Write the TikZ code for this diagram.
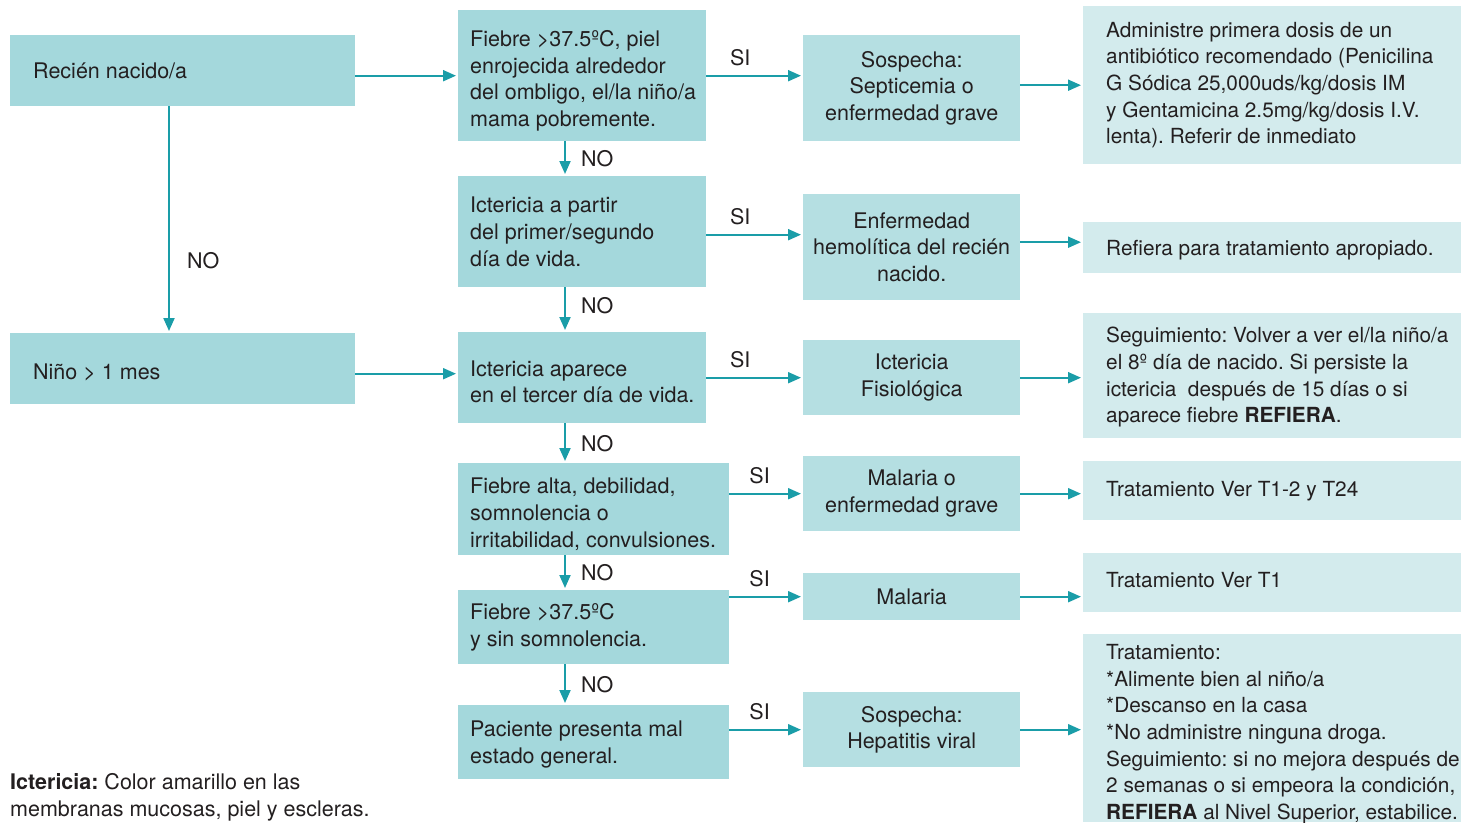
\documentclass[tikz,border=0pt]{standalone}
\usepackage{fontspec}
\setmainfont{TeX Gyre Heros}
\usetikzlibrary{arrows.meta,calc}
\definecolor{boxA}{HTML}{A4D8DC}
\definecolor{boxB}{HTML}{B5DFE2}
\definecolor{boxC}{HTML}{D3EBED}
\definecolor{arr}{HTML}{1A9DA8}
\definecolor{txt}{HTML}{231F20}
\frenchspacing
\begin{document}
\frenchspacing
\begin{tikzpicture}[x=1pt,y=-1pt,
  every node/.style={font=\fontsize{21.5}{26.7}\selectfont\frenchspacing, text=txt},
  boxa/.style={fill=boxA, draw=none, inner sep=0pt, anchor=north west},
  boxb/.style={fill=boxB, draw=none, inner sep=0pt, anchor=north west, align=center},
  boxc/.style={fill=boxC, draw=none, inner sep=0pt, anchor=north west},
  lbl/.style={anchor=west, align=left, inner sep=0pt},
  lbl4/.style={anchor=west, align=left, inner sep=0pt, font=\fontsize{20.8}{26.6}\selectfont\frenchspacing},
  arrow/.style={draw=arr, line width=2pt, -{Triangle[length=13pt,width=11pt]}, shorten >=2pt},
  si/.style={above=9pt, inner sep=0pt},
  no/.style={right=15pt, inner sep=0pt},
  noleft/.style={right=17pt, inner sep=0pt},
]
\useasboundingbox (0,0) rectangle (1461,822);
\coordinate (vx) at (565,0);
\coordinate (dx) at (169,0);

% column 1
\node[boxa, minimum width=345, minimum height=71] (R) at (10,35) {};
\node[lbl] (Rt) at ([xshift=23]R.west) {Recién nacido/a};
\node[boxa, minimum width=345, minimum height=71] (N) at (10,333) {};
\node[lbl] (Nt) at ([xshift=23,yshift=-4]N.west) {Niño > 1 mes};

% column 2
\node[boxa, minimum width=248, minimum height=131] (B1) at (458,10) {};
\node[lbl] (B1t) at ([xshift=12,yshift=-5]B1.west) {Fiebre >37.5ºC, piel\\enrojecida alrededor\\del ombligo, el/la niño/a\\mama pobremente.};
\node[boxa, minimum width=248, minimum height=111] (B2) at (458,176) {};
\node[lbl] (B2t) at ([xshift=12]B2.west) {Ictericia a partir\\del primer/segundo\\día de vida.};
\node[boxa, minimum width=248, minimum height=91] (B3) at (458,332) {};
\node[lbl] (B3t) at ([xshift=12,yshift=-4]B3.west) {Ictericia aparece\\en el tercer día de vida.};
\node[boxa, minimum width=271, minimum height=92] (B4) at (458,463) {};
\node[lbl] (B4t) at ([xshift=12,yshift=-5]B4.west) {Fiebre alta, debilidad,\\somnolencia o\\irritabilidad, convulsiones.};
\node[boxa, minimum width=271, minimum height=74] (B5) at (458,590) {};
\node[lbl] (B5t) at ([xshift=12]B5.west) {Fiebre >37.5ºC\\y sin somnolencia.};
\node[boxa, minimum width=271, minimum height=74] (B6) at (458,705) {};
\node[lbl] (B6t) at ([xshift=12,yshift=-2]B6.west) {Paciente presenta mal\\estado general.};

% column 3
\node[boxb, minimum width=217, minimum height=106] (C1) at (803,35) {Sospecha:\\Septicemia o\\enfermedad grave};
\node[boxb, minimum width=217, minimum height=106] (C2) at (803,194) {Enfermedad\\hemolítica del recién\\nacido.};
\node[boxb, minimum width=217, minimum height=75] (C3) at (803,340) {Ictericia\\Fisiológica};
\node[boxb, minimum width=217, minimum height=75] (C4) at (803,456) {Malaria o\\enfermedad grave};
\node[boxb, minimum width=217, minimum height=47] (C5) at (803,573) {Malaria};
\node[boxb, minimum width=217, minimum height=75] (C6) at (803,692) {Sospecha:\\Hepatitis viral};

% column 4
\node[boxc, minimum width=378, minimum height=158] (D1) at (1083,6) {};
\node[lbl4] (D1t) at ([xshift=23]D1.west) {Administre primera dosis de un\\antibiótico recomendado (Penicilina\\G Sódica 25,000uds/kg/dosis IM\\y Gentamicina 2.5mg/kg/dosis I.V.\\lenta). Referir de inmediato};
\node[boxc, minimum width=378, minimum height=51] (D2) at (1083,222) {};
\node[lbl4] (D2t) at ([xshift=23,yshift=-2]D2.west) {Refiera para tratamiento apropiado.};
\node[boxc, minimum width=378, minimum height=125] (D3) at (1083,313) {};
\node[lbl4] (D3t) at ([xshift=23,yshift=-1.5]D3.west) {Seguimiento: Volver a ver el/la niño/a\\el 8º día de nacido. Si persiste la\\ictericia\ \ después de 15 días o si\\aparece fiebre \textbf{REFIERA}.};
\node[boxc, minimum width=378, minimum height=59] (D4) at (1083,461) {};
\node[lbl4] (D4t) at ([xshift=23]D4.west) {Tratamiento Ver T1-2 y T24};
\node[boxc, minimum width=378, minimum height=59] (D5) at (1083,553) {};
\node[lbl4] (D5t) at ([xshift=23,yshift=3]D5.west) {Tratamiento Ver T1};
\node[boxc, minimum width=378, minimum height=188] (D6) at (1083,634) {};
\node[lbl4] (D6t) at ([xshift=23,yshift=-6]D6.west) {Tratamiento:\\*Alimente bien al niño/a\\*Descanso en la casa\\*No administre ninguna droga.\\Seguimiento: si no mejora después de\\2 semanas o si empeora la condición,\\\textbf{REFIERA} al Nivel Superior, estabilice.};

% footnote
\node[lbl] (foot) at (10,797) {\textbf{Ictericia:} Color amarillo en las\\membranas mucosas, piel y escleras.};

% connectors column 1
\draw[arrow] (R.east |- B1.west) -- (B1.west);
\draw[arrow] (R.south -| dx) -- node[noleft, pos=0.68]{NO} (N.north -| dx);
\draw[arrow] ([yshift=-5]N.east) -- ([yshift=-5]N.east -| B3.west);

% column 2 -> column 3
\draw[arrow] (B1.east) -- node[si, pos=0.35]{SI} (B1.east -| C1.west);
\draw[arrow] ([yshift=-3]B2.east) -- node[si, pos=0.35]{SI} ([yshift=-3]B2.east -| C2.west);
\draw[arrow] (B3.east) -- node[si, pos=0.35]{SI} (B3.east -| C3.west);
\draw[arrow] (B4.east |- C4.west) -- node[si, pos=0.41]{SI} (C4.west);
\draw[arrow] (B5.east |- C5.west) -- node[si, pos=0.41]{SI} (C5.west);
\draw[arrow] (B6.east |- C6.west) -- node[si, pos=0.41]{SI} (C6.west);

% column 3 -> column 4
\draw[arrow] (C1.east |- D1.west) -- (D1.west);
\draw[arrow] ([yshift=5]C2.east) -- ([yshift=5]C2.east -| D2.west);
\draw[arrow] (C3.east) -- (C3.east -| D3.west);
\draw[arrow] (C4.east) -- (C4.east -| D4.west);
\draw[arrow] (C5.east) -- (C5.east -| D5.west);
\draw[arrow] (C6.east) -- (C6.east -| D6.west);

% column 2 vertical
\draw[arrow] (B1.south -| vx) -- node[no]{NO} (B2.north -| vx);
\draw[arrow] (B2.south -| vx) -- node[no, pos=0.42]{NO} (B3.north -| vx);
\draw[arrow] (B3.south -| vx) -- node[no]{NO} (B4.north -| vx);
\draw[arrow] (B4.south -| vx) -- node[no]{NO} (B5.north -| vx);
\draw[arrow] (B5.south -| vx) -- node[no]{NO} (B6.north -| vx);
\end{tikzpicture}
\end{document}
